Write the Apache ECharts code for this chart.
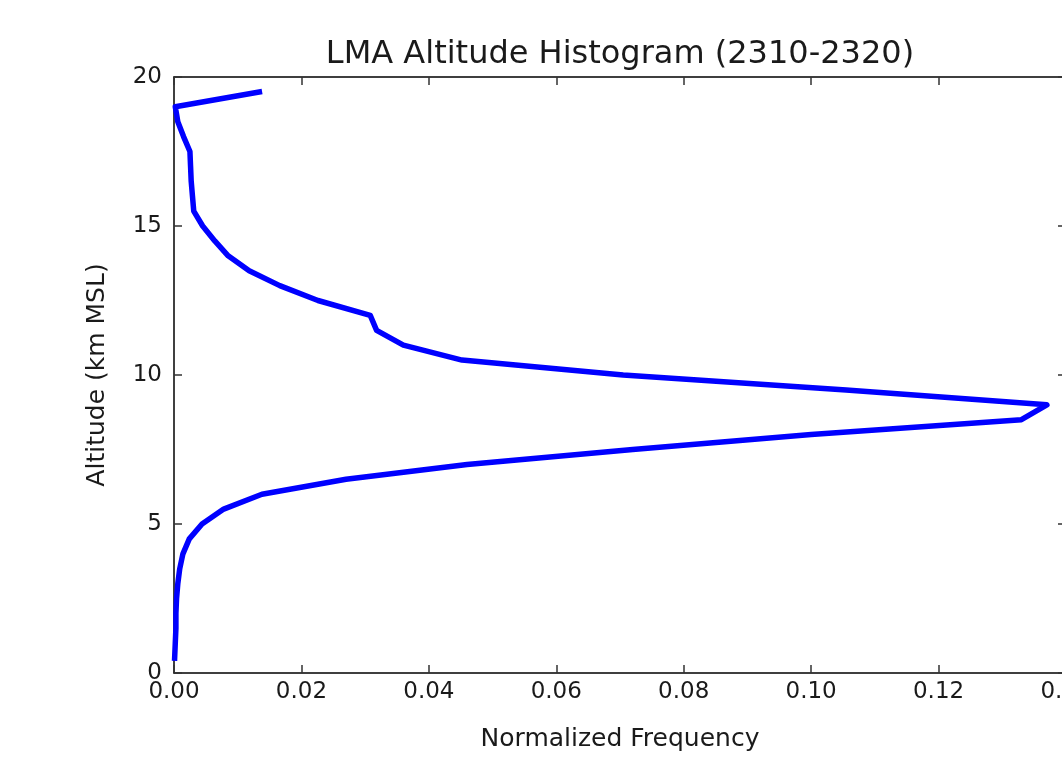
<!DOCTYPE html>
<html>
<head>
<meta charset="utf-8">
<script src="https://cdn.jsdelivr.net/npm/echarts@6/dist/echarts.min.js"></script>
<style>
  html, body { margin: 0; padding: 0; background: #ffffff; }
  #chart { width: 1062px; height: 760px; }
</style>
</head>
<body>
<div id="chart"></div>
<script>
// Altitude bins (km MSL)
var altitudes = [0.5, 1.0, 1.5, 2.0, 2.5, 3.0, 3.5, 4.0, 4.5, 5.0,
                 5.5, 6.0, 6.5, 7.0, 7.5, 8.0, 8.5, 9.0, 9.5, 10.0,
                 10.5, 11.0, 11.5, 12.0, 12.5, 13.0, 13.5, 14.0, 14.5, 15.0,
                 15.5, 16.0, 16.5, 17.0, 17.5, 18.0, 18.5, 19.0, 19.5];
// Normalized frequency for each altitude bin
var frequencies = [0.0001, 0.0002, 0.0003, 0.0003, 0.0004, 0.0006, 0.0009, 0.0014, 0.0024, 0.0044,
                   0.0078, 0.0138, 0.0270, 0.0460, 0.0720, 0.1000, 0.1330, 0.1370, 0.1055, 0.0705,
                   0.0452, 0.0360, 0.0318, 0.0308, 0.0226, 0.0166, 0.0118, 0.0085, 0.0064, 0.0045,
                   0.0031, 0.0029, 0.0027, 0.0026, 0.0025, 0.0015, 0.0006, 0.0002, 0.0134];
var xTicks = [0, 0.02, 0.04, 0.06, 0.08, 0.10, 0.12, 0.14];
var yTicks = [0, 5, 10, 15, 20];
var titleText = 'LMA Altitude Histogram (2310-2320)';
var xName = 'Normalized Frequency';
var yName = 'Altitude (km MSL)';

var FONT = 'DejaVu Sans';
var seriesData = altitudes.map(function (a, i) { return [frequencies[i], a]; });

var chart = echarts.init(document.getElementById('chart'), null, { renderer: 'canvas' });

function axisLine() { return { show: true, onZero: false, lineStyle: { color: '#000', width: 1.5 } }; }
function tickIn() { return { show: true, inside: true, length: 8, lineStyle: { color: '#333', width: 1.5 } }; }

chart.setOption({
  animation: false,
  backgroundColor: '#ffffff',
  title: {
    text: titleText,
    left: 615, top: 34, textAlign: 'center',
    textStyle: { fontFamily: FONT, fontSize: 32, fontWeight: 'normal', color: '#1a1a1a' }
  },
  grid: { left: 174, right: -4, top: 77, bottom: 87, containLabel: false, outerBoundsMode: 'none' },
  xAxis: [{
    type: 'value', min: xTicks[0], max: xTicks[xTicks.length - 1], interval: 0.02,
    position: 'bottom',
    name: xName, nameLocation: 'middle', nameGap: 54,
    nameTextStyle: { fontFamily: FONT, fontSize: 25, color: '#1a1a1a' },
    axisLine: axisLine(), axisTick: tickIn(),
    axisLabel: { fontFamily: FONT, fontSize: 23, color: '#1a1a1a', margin: 8,
      formatter: function (v) { return v.toFixed(2); } },
    splitLine: { show: false }
  }, {
    type: 'value', min: xTicks[0], max: xTicks[xTicks.length - 1], interval: 0.02,
    position: 'top',
    axisLine: axisLine(), axisTick: tickIn(),
    axisLabel: { show: false }, splitLine: { show: false }
  }],
  yAxis: [{
    type: 'value', min: yTicks[0], max: yTicks[yTicks.length - 1], interval: 5,
    position: 'left',
    name: yName, nameLocation: 'middle', nameGap: 64, nameRotate: 90,
    nameTextStyle: { fontFamily: FONT, fontSize: 25, color: '#1a1a1a' },
    axisLine: axisLine(), axisTick: tickIn(),
    axisLabel: { fontFamily: FONT, fontSize: 23, color: '#1a1a1a', margin: 12 },
    splitLine: { show: false }
  }, {
    type: 'value', min: yTicks[0], max: yTicks[yTicks.length - 1], interval: 5,
    position: 'right',
    axisLine: axisLine(), axisTick: tickIn(),
    axisLabel: { show: false }, splitLine: { show: false }
  }],
  series: [{
    type: 'line',
    xAxisIndex: 0, yAxisIndex: 0,
    data: seriesData,
    showSymbol: false,
    symbol: 'none',
    clip: true,
    lineStyle: { color: '#0000ff', width: 5.5, cap: 'square', join: 'round' }
  }]
});
</script>
</body>
</html>
